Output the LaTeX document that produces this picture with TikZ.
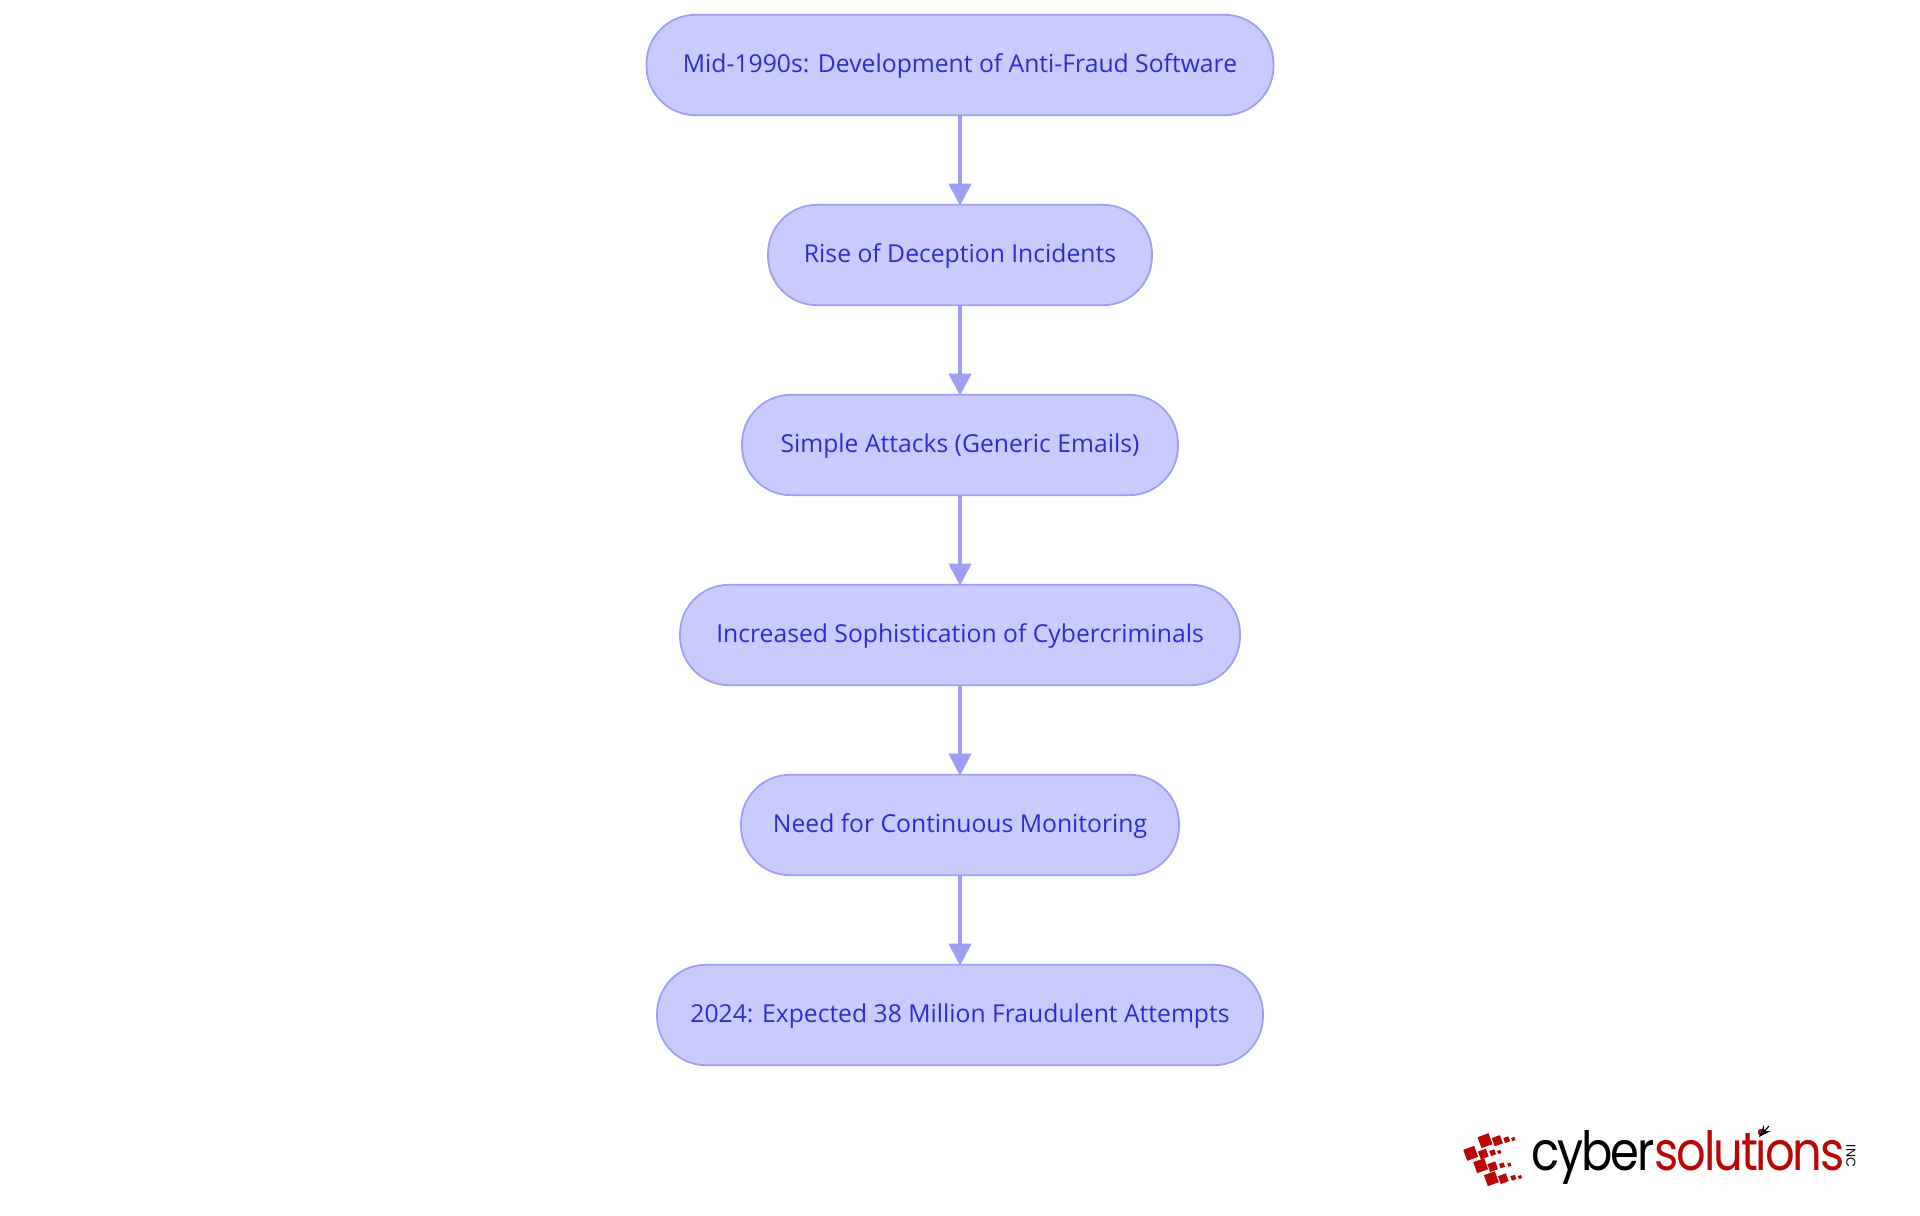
\documentclass[tikz,border=0pt]{standalone}
\usepackage{fontspec}
\usetikzlibrary{arrows.meta}
\setmainfont{Open Sans}
\newfontfamily\logofont[FakeStretch=0.86,LetterSpace=-4]{Poppins}
\newfontfamily\incfont{Poppins}
\definecolor{boxfill}{HTML}{C9CBFE}
\definecolor{boxline}{HTML}{9D9FF2}
\definecolor{boxtext}{HTML}{2C2CD2}
\definecolor{logored}{HTML}{BB0606}
\tikzset{
  stepbox/.style={draw=boxline,fill=boxfill,line width=0.9pt,rounded corners=24.5pt,minimum height=50.2pt,inner sep=0pt,text=boxtext,font=\fontsize{12.35}{15}\selectfont},
  flowline/.style={draw=boxline,line width=2pt,shorten >=-0.9pt,-{Triangle[length=11pt,width=11pt,fill=boxline]}},
  sq/.style={fill=logored,rotate=20,inner sep=0pt,draw=none}
}
\newcommand{\logosq}[4]{\node[sq,minimum size=#3*0.1667pt] (#4) at (1440+#1/3,1100+#2/3) {};}
\newcommand{\steptext}[1]{\raisebox{-3.5pt}[0pt][0pt]{#1}}
\begin{document}
\begin{tikzpicture}[x=0.5pt,y=-0.5pt]
\useasboundingbox (0,0) rectangle (1920,1215);
\node[stepbox,minimum width=313.5pt] (n1) at (960,65) {\steptext{Mid-1990s: Development of Anti-Fraud Software}};
\node[stepbox,minimum width=192pt] (n2) at (960,255) {\steptext{Rise of Deception Incidents}};
\node[stepbox,minimum width=218pt] (n3) at (960,445) {\steptext{Simple Attacks (Generic Emails)}};
\node[stepbox,minimum width=280pt] (n4) at (960,635) {\steptext{Increased Sophistication of Cybercriminals}};
\node[stepbox,minimum width=219pt] (n5) at (960,825) {\steptext{Need for Continuous Monitoring}};
\node[stepbox,minimum width=303pt] (n6) at (960,1015) {\steptext{2024: Expected 38 Million Fraudulent Attempts}};
\draw[flowline] (n1) -- (n2);
\draw[flowline] (n2) -- (n3);
\draw[flowline] (n3) -- (n4);
\draw[flowline] (n4) -- (n5);
\draw[flowline] (n5) -- (n6);
% logo
\logosq{135}{122}{35}{a1}\logosq{172}{122}{26}{a2}\logosq{200}{119}{16}{a3}\logosq{220}{117}{10}{a4}
\logosq{92}{160}{35}{b1}\logosq{130}{162}{25}{b2}\logosq{158}{158}{16}{b3}\logosq{178}{156}{10}{b4}
\logosq{122}{197}{35}{c1}\logosq{158}{200}{25}{c2}\logosq{186}{196}{14}{c3}\logosq{208}{194}{10}{c4}
\logosq{154}{236}{35}{d1}\logosq{190}{236}{25}{d2}\logosq{220}{233}{14}{d3}\logosq{240}{231}{10}{d4}
\node[anchor=base west,inner sep=0pt,font=\logofont\fontsize{27}{30}\selectfont] (logo) at (1531,1170)
  {\textcolor{black}{cyber}\textcolor{logored}{solutions}};
\node[rotate=-90,inner sep=0pt,font=\incfont\fontsize{6.5}{7}\selectfont,text=black] (inc) at (1851,1156) {INC};
\draw[black,line width=0.6pt,-{Stealth[length=6pt,width=4.5pt]}] (1769,1126) -- (1759,1137);
\end{tikzpicture}
\end{document}
